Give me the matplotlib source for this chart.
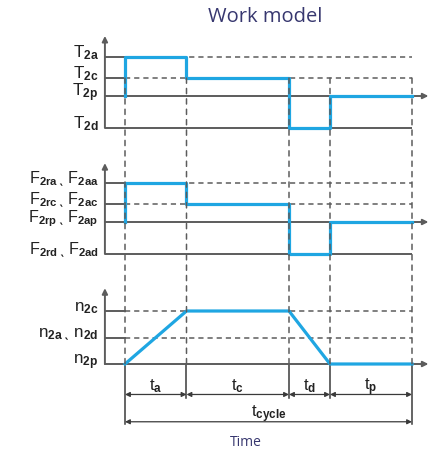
import matplotlib
matplotlib.use("Agg")
import matplotlib.pyplot as plt
from matplotlib.patches import ConnectionPatch

plt.rcParams['mathtext.fontset'] = 'custom'
plt.rcParams['mathtext.rm'] = 'Liberation Sans'
plt.rcParams['mathtext.it'] = 'Liberation Sans:italic'
plt.rcParams['mathtext.bf'] = 'Liberation Sans:bold'
plt.rcParams['font.family'] = ['Liberation Sans', 'DejaVu Sans']

# ---- data (schematic units) ----
phases = ['a', 'c', 'd', 'p']
durations = [1.5, 2.5, 1.0, 2.0]

torque_names = ['T2a', 'T2c', 'T2p', 'T2d']
torque_levels = [1.0, 0.46, 0.0, -0.82]
torque_steps = ['T2a', 'T2c', 'T2d', 'T2p']      # level held in each phase

force_names = [('2ra', '2aa'), ('2rc', '2ac'), ('2rp', '2ap'), ('2rd', '2ad')]
force_levels = [1.0, 0.46, 0.0, -0.82]
force_steps = [0, 1, 3, 2]                          # index into force_levels per phase

speed_names = ['n2c', 'n2a_n2d', 'n2p']
speed_levels = [1.0, 0.5, 0.0]
speed_at_breaks = [0.0, 1.0, 1.0, 0.0, 0.0]

# ---- layout (pixels) ----
W, H = 429, 450
T0_PX, PX_PER_T = 125, 41
BLUE = '#1fa6e2'
GRAY = '#5c5c5c'
DARK = '#3a3a3a'
NAVY = '#37376f'
LABEL_SIZE = 12.3

breaks = [0.0]
for d in durations:
    breaks.append(breaks[-1] + d)
t_end = breaks[-1]
x_axis = -0.49
x_tip = 7.40

fig = plt.figure(figsize=(W / 100, H / 100), dpi=100)


def panel(top_px, bottom_px, zero_px, px_per_unit):
    ax = fig.add_axes([0, 1 - bottom_px / H, 1, (bottom_px - top_px) / H])
    ax.set_xlim(-T0_PX / PX_PER_T, (W - T0_PX) / PX_PER_T)
    ax.set_ylim((zero_px - bottom_px) / px_per_unit, (zero_px - top_px) / px_per_unit)
    ax.axis('off')
    return ax


ax1 = panel(0, 150, 96, 39)
ax2 = panel(150, 280, 222, 39)
ax3 = panel(280, 450, 364, 53)

arrow_kw = dict(arrowstyle='-|>', color=GRAY, lw=1.4, mutation_scale=8,
                shrinkA=0, shrinkB=0)
dash = (0, (3.4, 2.6))


def axes_frame(ax, levels, tip_y, bottom_level, solid_levels):
    # y axis with arrow
    ax.annotate('', xy=(x_axis, tip_y), xytext=(x_axis, bottom_level),
                arrowprops=arrow_kw, annotation_clip=False)
    # x axis (zero level) with arrow
    ax.annotate('', xy=(x_tip, 0), xytext=(x_axis, 0),
                arrowprops=arrow_kw, annotation_clip=False)
    for lv in levels:
        if lv == 0:
            continue
        if lv in solid_levels:
            ax.plot([x_axis, t_end], [lv, lv], color=GRAY, lw=1.4,
                    solid_capstyle='butt', clip_on=False)
        else:
            ax.plot([x_axis, 0], [lv, lv], color=GRAY, lw=1.4, clip_on=False)
            ax.plot([0, t_end], [lv, lv], color=GRAY, lw=1.1, ls=dash, clip_on=False)


def label(ax, y, text, size=LABEL_SIZE):
    ax.annotate(text, xy=(x_axis, y), xytext=(-4.5, 0), textcoords='offset points',
                ha='right', va='baseline', fontsize=size, color='#222222',
                annotation_clip=False)


# ---- torque ----
axes_frame(ax1, torque_levels, 1.54, min(torque_levels), [min(torque_levels)])
for name, lv in zip(torque_names, torque_levels):
    label(ax1, lv, r'$\mathrm{%s}_{\mathbf{%s}}$' % (name[0], name[1:]))
lv_of = dict(zip(torque_names, torque_levels))
tx = [0.0] + breaks
ty = [0.0] + [lv_of[n] for n in torque_steps] + [lv_of[torque_steps[-1]]]
ax1.step(tx, ty, where='post', color=BLUE, lw=2.3, zorder=3, clip_on=False)

# ---- force ----
axes_frame(ax2, force_levels, 1.51, min(force_levels), [min(force_levels)])
for (r, a), lv in zip(force_names, force_levels):
    label(ax2, lv, r'$\mathrm{F}_{\mathbf{%s}}\,\mathrm{ˎ}\;\mathrm{F}_{\mathbf{%s}}$' % (r, a),
          size=11.6)
fy = [0.0] + [force_levels[i] for i in force_steps] + [force_levels[force_steps[-1]]]
ax2.step(tx, fy, where='post', color=BLUE, lw=2.3, zorder=3, clip_on=False)

# ---- speed ----
axes_frame(ax3, speed_levels, 1.43, 0.0, [])
label(ax3, speed_levels[0], r'$\mathrm{n}_{\mathbf{2c}}$')
label(ax3, speed_levels[1], r'$\mathrm{n}_{\mathbf{2a}}\,\mathrm{ˎ}\;\mathrm{n}_{\mathbf{2d}}$')
label(ax3, speed_levels[2], r'$\mathrm{n}_{\mathbf{2p}}$')
ax3.plot(breaks, speed_at_breaks, color=BLUE, lw=2.3, zorder=3, clip_on=False)

# ---- vertical guides across the panels ----
for t in breaks:
    con = ConnectionPatch(xyA=(t, torque_levels[1]), coordsA=ax1.transData,
                          xyB=(t, 0.0), coordsB=ax3.transData,
                          color=GRAY, lw=1.1, linestyle=(0, (3.4, 3.4)), zorder=1)
    fig.add_artist(con)

# ---- time dimensions ----
DIM_Y, CYC_Y = -0.575, -1.09
for i, t in enumerate(breaks):
    low = CYC_Y - 0.04 if i in (0, len(breaks) - 1) else DIM_Y - 0.06
    ax3.plot([t, t], [0, low], color=DARK, lw=1.1, clip_on=False)

dim_kw = dict(arrowstyle='<|-|>', color=DARK, lw=0.9, mutation_scale=7,
              shrinkA=0, shrinkB=0)
for p, t0, t1 in zip(phases, breaks[:-1], breaks[1:]):
    ax3.annotate('', xy=(t1, DIM_Y), xytext=(t0, DIM_Y), arrowprops=dim_kw,
                 annotation_clip=False)
    ax3.annotate(r'$\mathrm{t}_{\mathbf{%s}}$' % p, xy=((t0 + t1) / 2, DIM_Y),
                 xytext=(0, 3), textcoords='offset points', ha='center',
                 va='baseline', fontsize=12, color='#222222', annotation_clip=False)
ax3.annotate('', xy=(t_end, CYC_Y), xytext=(0, CYC_Y), arrowprops=dim_kw,
             annotation_clip=False)
ax3.annotate(r'$\mathrm{t}_{\mathbf{cycle}}$', xy=(t_end / 2, CYC_Y),
             xytext=(0, 3), textcoords='offset points', ha='center',
             va='baseline', fontsize=12, color='#222222', annotation_clip=False)

fig.text(265 / W, 1 - 17 / H, 'Work model', ha='center', va='center',
         fontsize=14.5, color=NAVY, family=['Open Sans', 'DejaVu Sans'])
fig.text(246 / W, 1 - 443 / H, 'Time', ha='center', va='center',
         fontsize=10, color=NAVY, family=['Open Sans', 'DejaVu Sans'])

fig.savefig('out.png', dpi=100)
